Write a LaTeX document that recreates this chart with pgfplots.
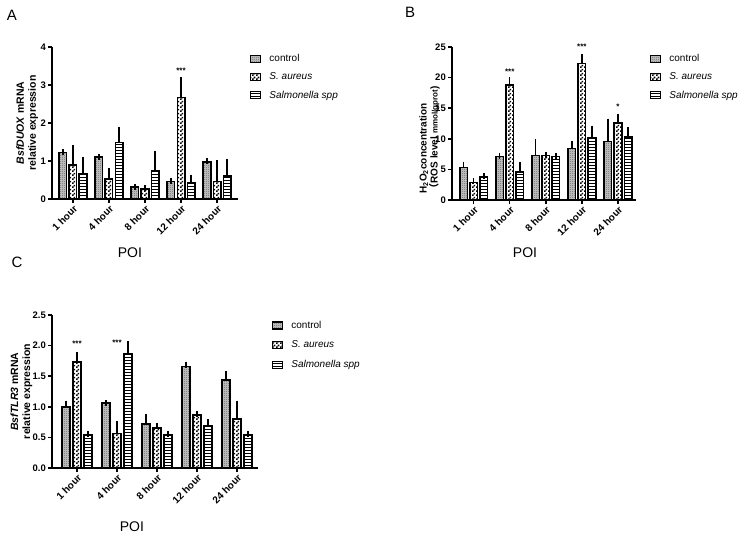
\documentclass[border=0pt]{standalone}
\usepackage{pgfplots}
\pgfplotsset{compat=1.18}
\usetikzlibrary{patterns}
\usepackage{fontspec}
\setmainfont{Liberation Sans}
\newfontfamily\cjk{Noto Sans CJK SC}
\pgfdeclarepatternformonly{fchecker}{\pgfpointorigin}{\pgfqpoint{4pt}{4pt}}{\pgfqpoint{4pt}{4pt}}{%
  \pgfpathrectangle{\pgfpointorigin}{\pgfqpoint{2pt}{2pt}}%
  \pgfpathrectangle{\pgfqpoint{2pt}{2pt}}{\pgfqpoint{2pt}{2pt}}%
  \pgfusepath{fill}}
\pgfdeclarepatternformonly{fdots}{\pgfpointorigin}{\pgfqpoint{2pt}{2pt}}{\pgfqpoint{2pt}{2pt}}{%
  \pgfpathrectangle{\pgfpointorigin}{\pgfqpoint{1pt}{1pt}}%
  \pgfusepath{fill}}
\pgfdeclarepatternformonly{fhlines}{\pgfqpoint{-1pt}{-1pt}}{\pgfqpoint{4pt}{4pt}}{\pgfqpoint{3pt}{3pt}}{%
  \pgfsetlinewidth{0.8pt}\pgfpathmoveto{\pgfqpoint{-0.1pt}{1.5pt}}\pgfpathlineto{\pgfqpoint{3.1pt}{1.5pt}}\pgfusepath{stroke}}
\tikzset{aster/.style={font=\bfseries\fontsize{8}{8}\selectfont}}
\pgfplotsset{
  gp/.style={
    scale only axis, clip=false,
    axis x line*=bottom, axis y line*=left,
    axis line style={line width=1.5pt,-},
    tick align=outside, major tick length=4pt,
    every tick/.style={line width=1.5pt,black},
    xtick={0,...,4},
    xticklabels={1 hour,4 hour,8 hour,12 hour,24 hour},
    xticklabel style={rotate=45,anchor=north east,font=\bfseries\fontsize{10}{10}\selectfont,inner sep=1pt},
    yticklabel style={font=\bfseries\fontsize{9.5}{9.5}\selectfont,inner sep=2pt},
    /pgf/number format/assume math mode=true,
    ymin=0, enlargelimits=false,
    xlabel={POI},
    xlabel style={font=\fontsize{14}{14}\selectfont},
    ylabel style={align=center,font=\bfseries\fontsize{10.5}{12}\selectfont,rotate=0},
    legend style={draw=none,fill=none,inner sep=0pt,font=\fontsize{10}{12}\selectfont,row sep=5.5pt,cells={anchor=west},anchor=north west,
      /tikz/every odd column/.style={column sep=6pt}},
    legend cell align=left,
    error bars/y dir=plus, error bars/y explicit,
    error bars/error bar style={line width=1.5pt,black},
    error bars/error mark options={line width=1.5pt,mark size=3pt,black},
  },
  bars/.style={ybar,bar width=#1,bar shift=0,draw=black,line width=1.5pt,
    legend image code/.code={\draw[##1,line width=1.2pt] (0pt,-3.5pt) rectangle (10pt,3.5pt);}},
  ctl/.style={bars=#1,fill=gray!55,postaction={pattern=fdots,pattern color=black!75}},
  sau/.style={bars=#1,fill=white,postaction={pattern=fchecker,pattern color=black}},
  sal/.style={bars=#1,fill=white,postaction={pattern=fhlines,pattern color=black}},
}
\begin{document}
\begin{tikzpicture}
\path[use as bounding box] (0pt,0pt) rectangle (740pt,-536pt);
\node[font=\fontsize{15}{15}\selectfont] at (12pt,-15pt) {A};
\node[font=\fontsize{15}{15}\selectfont] at (410pt,-12pt) {B};
\node[font=\fontsize{15}{15}\selectfont] at (17pt,-262pt) {C};

% Panel A
\begin{axis}[gp, at={(52pt,-199pt)}, anchor=south west,
  width=186pt, height=152pt, xmin=-0.58, xmax=4.58, ymax=4, ytick={0,1,2,3,4},
  ylabel={\textit{BsfDUOX} mRNA\\relative expression},
  ylabel style={at={(axis description cs:-0.134,0.5)},anchor=center},
  xlabel style={at={(axis description cs:0.419,-0.355)},anchor=center},
  legend style={at={(1.065,0.965)}}]
\addplot[ctl=0.21] coordinates {(-0.28,1.23) +- (0,0.01) (0.72,1.10) +- (0,0.01) (1.72,0.31) +- (0,0.01) (2.72,0.46) +- (0,0.01) (3.72,0.98) +- (0,0.03)};
\addplot[sau=0.21] coordinates {(0,0.89) +- (0,0.44) (1,0.52) +- (0,0.22) (2,0.26) +- (0,0.03) (3,2.67) +- (0,0.45) (4,0.46) +- (0,0.49)};
\addplot[sal=0.21] coordinates {(0.28,0.66) +- (0,0.37) (1.28,1.49) +- (0,0.33) (2.28,0.74) +- (0,0.45) (3.28,0.43) +- (0,0.13) (4.28,0.60) +- (0,0.38)};
\legend{control,\textit{S. aureus},\textit{Salmonella spp}}
\node[aster] at (axis cs:3,3.37) {***};
\end{axis}

% Panel B
\begin{axis}[gp, at={(452pt,-200pt)}, anchor=south west,
  width=184pt, height=153pt, xmin=-0.6, xmax=4.5, ymax=25, ytick={0,5,10,15,20,25},
  ylabel={H\textsubscript{2}O\textsubscript{2}concentration\\{\cjk （}ROS level {\fontsize{8}{8}\selectfont mmol/gprot})},
  ylabel style={at={(axis description cs:-0.122,0.02)},anchor=west,align=left,font=\bfseries\fontsize{10}{11}\selectfont},
  xlabel style={at={(axis description cs:0.397,-0.346)},anchor=center},
  legend style={at={(1.076,0.965)}}]
\addplot[ctl=0.21] coordinates {(-0.28,5.3) +- (0,0.5) (0.72,7.1) +- (0,0.1) (1.72,7.3) +- (0,2.2) (2.72,8.45) +- (0,0.75) (3.72,9.6) +- (0,3.2)};
\addplot[sau=0.21] coordinates {(0,2.9) +- (0,0.2) (1,18.8) +- (0,0.8) (2,7.3) +- (0,0.1) (3,22.3) +- (0,1.1) (4,12.6) +- (0,1.0)};
\addplot[sal=0.21] coordinates {(0.28,3.8) +- (0,0.15) (1.28,4.6) +- (0,1.1) (2.28,7.1) +- (0,0.1) (3.28,10.15) +- (0,1.5) (4.28,10.3) +- (0,1.1)};
\legend{control,\textit{S. aureus},\textit{Salmonella spp}}
\node[aster] at (axis cs:1,20.9) {***};
\node[aster] at (axis cs:3,25.1) {***};
\node[aster] at (axis cs:4,15.3) {*};
\end{axis}

% Panel C
\begin{axis}[gp, at={(52pt,-468pt)}, anchor=south west,
  width=206pt, height=153pt, xmin=-0.625, xmax=4.525, ymax=2.5, ytick={0,0.5,1,1.5,2,2.5},
  yticklabel style={/pgf/number format/.cd,fixed,fixed zerofill,precision=1},
  ylabel={\textit{BsfTLR3} mRNA\\relative expression},
  ylabel style={at={(axis description cs:-0.148,0.5)},anchor=center},
  xlabel style={at={(axis description cs:0.388,-0.386)},anchor=center},
  legend style={at={(1.068,0.975)},row sep=7pt}]
\addplot[ctl=0.2] coordinates {(-0.27,1.0) +- (0,0.05) (0.73,1.06) +- (0,0.01) (1.73,0.72) +- (0,0.11) (2.73,1.66) +- (0,0.03) (3.73,1.44) +- (0,0.10)};
\addplot[sau=0.2] coordinates {(0,1.73) +- (0,0.12) (1,0.56) +- (0,0.16) (2,0.65) +- (0,0.03) (3,0.87) +- (0,0.01) (4,0.80) +- (0,0.25)};
\addplot[sal=0.2] coordinates {(0.27,0.55) +- (0,0) (1.27,1.87) +- (0,0.15) (2.27,0.55) +- (0,0) (3.27,0.69) +- (0,0.06) (4.27,0.55) +- (0,0)};
\legend{control,\textit{S. aureus},\textit{Salmonella spp}}
\node[aster] at (axis cs:0,2.03) {***};
\node[aster] at (axis cs:1,2.05) {***};
\end{axis}
\end{tikzpicture}
\end{document}
